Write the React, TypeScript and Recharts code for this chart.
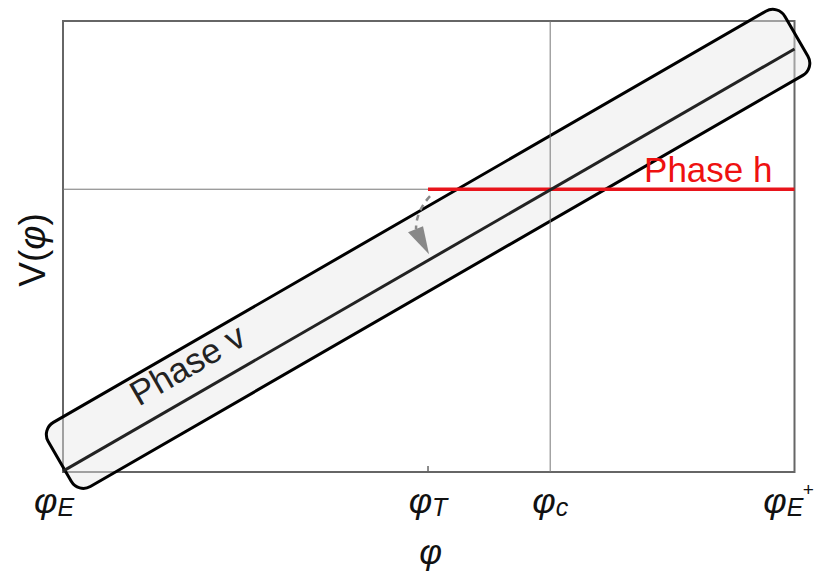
import React from "react";
import {
  ComposedChart,
  Line,
  XAxis,
  YAxis,
  ReferenceLine,
  ReferenceArea,
} from "recharts";

// potential V(phi): straight line across the window
const phiValues = [0, 1];
const vValues = [0.002, 0.938];

// marked positions on the phi axis
const phiT = 0.499;
const phiC = 0.666;
const vH = 0.627; // level of phase h

const tickValues = [0, phiT, phiC, 1];
const tickSubs = ["E", "T", "c", "E"];
const tickSups = ["", "", "", "+"];
const tickShift = [-9, 0, 0, -6];

const data = phiValues.map((phi, i) => ({ phi, v: vValues[i] }));
const vAtT = vValues[0] + (vValues[1] - vValues[0]) * phiT;

const FONT = "'Liberation Sans', Arial, sans-serif";

const PhiTick = (props: any) => {
  const { x, payload } = props;
  const i = tickValues.indexOf(payload.value);
  return (
    <g>
      {i === 1 && (
        <line x1={x} x2={x} y1={472} y2={466} stroke="#666" strokeWidth={1.5} />
      )}
      <text
        x={x + tickShift[i]}
        y={513}
        textAnchor="middle"
        fontFamily={FONT}
        fontSize={36}
        fontStyle="italic"
        fill="#111"
      >
        φ
        <tspan fontSize={25} dy={3}>
          {tickSubs[i]}
        </tspan>
        {tickSups[i] && (
          <tspan fontSize={19} dy={-20} dx={-1}>
            {tickSups[i]}
          </tspan>
        )}
      </text>
    </g>
  );
};

// rounded band drawn around the phase v line
const BandShape = (props: any) => {
  const { x1, y1, x2, y2 } = props;
  const len = Math.hypot(x2 - x1, y2 - y1);
  const deg = (Math.atan2(y2 - y1, x2 - x1) * 180) / Math.PI;
  return (
    <g transform={`translate(${x1},${y1}) rotate(${deg})`}>
      <rect
        x={2}
        y={-47}
        width={len + 6}
        height={74}
        rx={14}
        fill="#e6e6e6"
        fillOpacity={0.45}
        stroke="#000"
        strokeWidth={3}
      />
      <text
        x={161}
        y={-18}
        textAnchor="middle"
        fontFamily={FONT}
        fontSize={35}
        fill="#222"
      >
        Phase v
      </text>
    </g>
  );
};

const PhaseHShape = (props: any) => {
  const { x1, y1, x2, y2 } = props;
  return (
    <g>
      <line x1={x1} y1={y1} x2={x2} y2={y2} stroke="#e8141b" strokeWidth={3.5} />
      <text
        x={x2 - 22}
        y={y1 - 7}
        textAnchor="end"
        fontFamily={FONT}
        fontSize={35}
        fill="#ee1111"
      >
        Phase h
      </text>
    </g>
  );
};

const ArrowShape = (props: any) => {
  const { x1, y1 } = props;
  return (
    <g>
      <path
        d={`M ${x1 + 2} ${y1 + 7} Q ${x1 - 12} ${y1 + 22} ${x1 - 12} ${y1 + 40}`}
        fill="none"
        stroke="#888"
        strokeWidth={2.5}
        strokeDasharray="6 5"
      />
      <polygon
        points={`${x1 - 20},${y1 + 43} ${x1 - 5},${y1 + 37} ${x1 + 1},${y1 + 65}`}
        fill="#888"
      />
    </g>
  );
};

const App: React.FC = () => {
  return (
    <div style={{ position: "absolute", left: 0, top: 0, background: "#fff" }}>
      <ComposedChart
        width={815}
        height={572}
        data={data}
        margin={{ top: 21, right: 20.5, bottom: 0, left: 0 }}
      >
        <XAxis
          dataKey="phi"
          type="number"
          domain={[0, 1]}
          ticks={tickValues}
          tick={<PhiTick />}
          tickLine={false}
          tickSize={0}
          tickMargin={0}
          axisLine={false}
          height={100}
          interval={0}
          label={{
            content: (p: any) => {
              const vb = p.viewBox;
              return (
                <text
                  x={vb.x + vb.width / 2 + 2}
                  y={564}
                  textAnchor="middle"
                  fontFamily={FONT}
                  fontSize={35}
                  fontStyle="italic"
                  fill="#111"
                >
                  φ
                </text>
              );
            },
          }}
        />
        <YAxis
          type="number"
          domain={[0, 1]}
          width={63}
          tick={false}
          tickLine={false}
          axisLine={false}
          label={{
            content: () => (
              <text
                x={45}
                y={250}
                textAnchor="middle"
                transform="rotate(-90, 45, 250)"
                fontFamily={FONT}
                fontSize={37}
                fill="#111"
              >
                V(<tspan fontStyle="italic">φ</tspan>)
              </text>
            ),
          }}
        />
        <ReferenceArea
          x1={0}
          x2={1}
          y1={0}
          y2={1}
          fill="none"
          stroke="#666"
          strokeWidth={2}
        />
        <ReferenceLine
          segment={[
            { x: phiValues[0], y: vValues[0] },
            { x: phiValues[1], y: vValues[1] },
          ]}
          ifOverflow="visible"
          shape={BandShape}
        />
        <ReferenceLine y={vH} stroke="#777" strokeWidth={1} />
        <ReferenceLine x={phiC} stroke="#777" strokeWidth={1} />
        <ReferenceLine
          segment={[
            { x: phiT, y: vH },
            { x: 1, y: vH },
          ]}
          ifOverflow="visible"
          shape={PhaseHShape}
        />
        <ReferenceLine
          segment={[
            { x: phiT, y: vH },
            { x: phiT, y: vAtT },
          ]}
          ifOverflow="visible"
          shape={ArrowShape}
        />
        <Line
          dataKey="v"
          stroke="#222"
          strokeWidth={3}
          dot={false}
          isAnimationActive={false}
        />
      </ComposedChart>
    </div>
  );
};

export default App;
